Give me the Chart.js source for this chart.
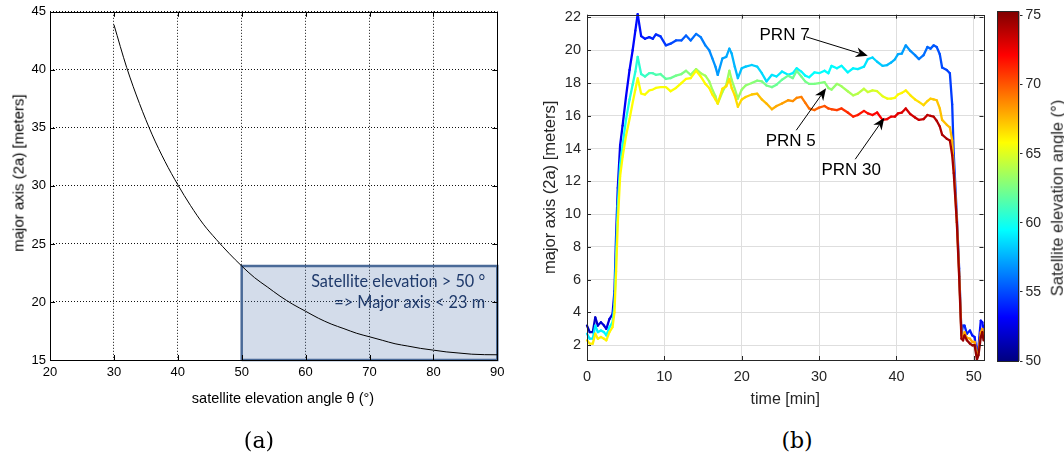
<!DOCTYPE html>
<html><head><meta charset="utf-8">
<script src="https://cdn.jsdelivr.net/npm/chart.js@4.4.1/dist/chart.umd.min.js"></script>
<style>
html,body{margin:0;padding:0;background:#fff;width:1064px;height:461px;overflow:hidden;}
body{position:relative;font-family:"Liberation Sans",Arial,Helvetica,sans-serif;}
canvas{position:absolute;top:0;}
.t{position:absolute;white-space:nowrap;transform:translate(-50%,-50%);line-height:1;}
.r{transform:translate(-50%,-50%) rotate(-90deg);}
.cap{position:absolute;white-space:nowrap;transform:translate(-50%,-50%);font-family:"DejaVu Serif",serif;font-size:22px;color:#000;line-height:1;}
</style>
</head><body>
<canvas id="ca" width="530" height="420" style="left:0"></canvas>
<canvas id="cb" width="460" height="420" style="left:530px"></canvas>
<canvas id="cc" width="74" height="420" style="left:990px"></canvas>
<div class="t r" style="left:18px;top:173px;font-size:15px;color:#000">major axis (2a) [meters]</div>
<div class="t" style="left:283px;top:398px;font-size:14.5px;color:#000">satellite elevation angle θ (°)</div>
<div class="t r" style="left:1057px;top:198px;font-size:16.5px;color:#262626">Satellite elevation angle (°)</div>
<div class="cap" style="left:259px;top:441px">(a)</div>
<div class="cap" style="left:797px;top:441px">(b)</div>
<script>
// ---------- Panel (a) data ----------
const angleDeg   = [30,32,34,36,38,40,42,44,46,48,50,52,54,56,58,60,62,64,66,68,70,72,74,76,78,80,82,84,86,88,90];
const majorAxisM = [43.9,40.2,37.1,34.4,32.1,30.1,28.3,26.7,25.4,24.2,23.1,22.1,21.3,20.5,19.8,19.2,18.6,18.1,17.7,17.3,17.0,16.7,16.4,16.2,16.0,15.85,15.7,15.6,15.5,15.46,15.45];
const boxAngle = [50, 90];
const boxMajor = [15, 23.1];
const boxText  = ["Satellite elevation > 50 °", "=> Major axis < 23 m"];
const xTicksA = [20,30,40,50,60,70,80,90];
const yTicksA = [15,20,25,30,35,40,45];

// ---------- Panel (b) data ----------
const timeMin = [0,0.35,0.75,1.07,1.4,1.8,2.2,2.5,2.9,3.3,
 3.55,3.76,3.98,4.28,4.6,5.05,5.5,5.9,6.25,6.55,
 7.0,7.5,8.05,8.5,8.9,9.5,10.2,10.8,11.5,12.2,
 12.8,13.4,14.1,14.7,15.3,15.8,16.2,16.6,16.9,17.5,
 18.0,18.4,18.7,19.1,19.5,20.0,20.5,21.3,22.0,22.6,
 23.2,23.9,24.5,25.2,26.0,26.6,27.1,27.7,28.2,28.7,
 29.4,30.0,30.7,31.2,31.6,32.3,32.9,33.7,34.4,35.0,
 35.8,36.3,36.9,37.5,38.2,38.8,39.3,39.8,40.2,40.7,
 41.2,41.8,42.4,42.9,43.5,44.0,44.4,44.8,45.2,45.6,
 45.9,46.5,46.9,47.2,47.4,47.8,48.1,48.4,48.6,48.8,
 49.1,49.5,49.8,50.1,50.4,50.6,50.9,51.1,51.25];
const prn7 = [3.2,2.8,2.8,3.7,3.2,3.4,3.2,3.0,3.6,3.9,
 5.3,8.7,11.6,14.2,15.4,17.2,18.8,20.0,21.2,22.2,
 20.86,20.7,20.8,20.7,20.97,20.85,20.3,20.4,20.6,20.6,
 20.9,20.6,21.0,20.8,20.3,20.0,19.5,19.0,18.5,19.5,
 19.6,20.1,19.8,19.0,18.3,18.9,19.0,19.1,19.0,18.6,
 18.1,18.5,18.4,18.7,18.5,18.6,18.9,18.7,18.45,18.35,
 18.65,18.6,18.75,18.6,19.05,18.9,19.05,18.65,18.9,18.85,
 19.0,19.46,19.56,19.3,19.05,19.1,19.25,19.45,19.76,19.8,
 20.3,19.96,19.7,19.46,19.7,20.2,20.1,20.3,20.2,19.76,
 18.95,18.8,18.6,16.7,13.7,9.9,6.7,2.7,3.2,3.2,
 2.7,2.9,2.6,2.5,1.5,1.9,3.5,3.4,2.9];
const prn5 = [2.7,2.4,2.4,3.2,2.8,2.9,2.8,2.6,3.1,3.4,
 4.5,7.5,10.5,13.0,14.2,15.8,17.0,17.9,18.7,19.6,
 18.55,18.4,18.6,18.6,18.5,18.55,18.25,18.3,18.45,18.55,
 18.75,18.5,18.85,18.6,18.45,18.1,17.6,17.2,16.75,17.45,
 17.9,18.75,18.2,17.65,17.05,17.6,17.85,18.0,18.15,18.1,
 17.85,17.75,17.9,18.2,18.45,18.3,18.75,18.4,18.1,17.95,
 17.95,18.0,18.05,17.7,17.6,17.95,17.8,17.5,17.25,17.35,
 17.65,17.45,17.55,17.5,17.2,17.05,17.05,17.1,17.3,17.4,
 17.55,17.25,17.0,16.85,16.65,16.9,17.05,17.0,16.95,16.45,
 15.75,15.45,15.3,14.5,12.8,9.6,6.4,2.6,2.5,2.8,
 2.45,2.4,2.2,2.2,1.3,1.6,2.8,3.0,2.5];
const prn30 = [2.3,2.1,2.1,2.7,2.4,2.5,2.4,2.3,2.8,3.1,
 4.0,6.5,9.5,12.3,13.5,14.8,15.8,16.8,17.6,18.3,
 17.35,17.3,17.55,17.6,17.7,17.75,17.75,17.5,17.7,18.0,
 18.25,18.3,18.75,18.4,17.95,17.7,17.3,17.0,16.75,17.65,
 17.8,18.25,17.7,17.25,16.55,17.0,17.15,17.3,17.35,17.0,
 16.75,16.4,16.6,16.75,16.95,16.9,17.1,17.15,16.8,16.45,
 16.35,16.5,16.6,16.45,16.4,16.35,16.45,16.2,15.95,16.05,
 16.3,16.15,16.05,16.2,15.75,15.8,15.95,15.95,16.15,16.2,
 16.45,16.1,15.9,15.75,15.8,16.05,16.0,15.95,15.7,15.35,
 14.85,14.6,14.5,13.6,12.5,9.5,6.2,2.4,2.3,2.6,
 2.3,2.1,2.0,2.0,1.12,1.4,2.5,2.8,2.3];
const elevTime  = [0,5,10,15,20,25,30,35,40,45,51.25];
const elevPrn7  = [51.5,53.0,54.5,56.3,58.0,59.0,59.6,59.2,57.5,55.3,53.3];
const elevPrn5  = [58.8,60.0,61.8,63.5,63.3,62.0,62.6,64.0,65.8,67.2,68.3];
const elevPrn30 = [66.3,65.8,65.7,65.9,66.8,68.0,69.8,71.5,72.8,74.0,75.0];
const xTicksB = [0,10,20,30,40,50];
const yTicksB = [2,4,6,8,10,12,14,16,18,20,22];
const cbRange = [50, 75.3];
const cbTicks = [50,55,60,65,70,75];

// ---------- helpers ----------
const FONT = '"Liberation Sans", Arial, Helvetica, sans-serif';
Chart.defaults.font.family = FONT;
function jet(v){
  const c = x => Math.max(0, Math.min(1, x));
  const r = c(1.5 - Math.abs(4*v - 3)), g = c(1.5 - Math.abs(4*v - 2)), b = c(1.5 - Math.abs(4*v - 1));
  return 'rgb(' + Math.round(r*255) + ',' + Math.round(g*255) + ',' + Math.round(b*255) + ')';
}
function elevColor(e){ return jet((e - cbRange[0]) / (cbRange[1] - cbRange[0])); }
function elevAt(arr, t){
  for (let i = 1; i < elevTime.length; i++) {
    if (t <= elevTime[i]) { const f = (t - elevTime[i-1]) / (elevTime[i] - elevTime[i-1]); return arr[i-1] + f * (arr[i] - arr[i-1]); }
  }
  return arr[arr.length - 1];
}
const fixedTicks = arr => scale => { scale.ticks = arr.map(v => ({value: v})); };

const framePlugin = {
  id: 'frame',
  afterDatasetsDraw(chart, args, o) {
    const {ctx, chartArea: a, scales} = chart;
    ctx.save();
    ctx.strokeStyle = o.color; ctx.lineWidth = 1;
    ctx.beginPath();
    const L = o.tick;
    scales.x.ticks.forEach(t => { const p = Math.round(scales.x.getPixelForValue(t.value)) + 0.5;
      ctx.moveTo(p, a.bottom); ctx.lineTo(p, a.bottom - L); ctx.moveTo(p, a.top); ctx.lineTo(p, a.top + L); });
    scales.y.ticks.forEach(t => { const p = Math.round(scales.y.getPixelForValue(t.value)) + 0.5;
      ctx.moveTo(a.left, p); ctx.lineTo(a.left + L, p); ctx.moveTo(a.right, p); ctx.lineTo(a.right - L, p); });
    ctx.stroke();
    ctx.strokeRect(Math.round(a.left) + 0.5, Math.round(a.top) + 0.5, Math.round(a.right - a.left), Math.round(a.bottom - a.top));
    ctx.restore();
  }
};
const boxTextPlugin = {
  id: 'boxText',
  afterDatasetsDraw(chart, args, o) {
    const {ctx} = chart, xs = chart.scales.x, ys = chart.scales.y;
    ctx.save();
    ctx.fillStyle = o.color; ctx.font = o.font; ctx.textAlign = 'right'; ctx.textBaseline = 'middle';
    o.lines.forEach((l, i) => ctx.fillText(boxText[i], xs.getPixelForValue(l.x), ys.getPixelForValue(l.y), l.w));
    ctx.restore();
  }
};
const notesPlugin = {
  id: 'notes',
  afterDatasetsDraw(chart, args, o) {
    const {ctx} = chart, xs = chart.scales.x, ys = chart.scales.y;
    ctx.save();
    ctx.strokeStyle = '#000'; ctx.fillStyle = '#000'; ctx.lineWidth = 1;
    ctx.font = o.font; ctx.textAlign = 'left'; ctx.textBaseline = 'middle';
    o.items.forEach(n => {
      ctx.fillText(n.label, xs.getPixelForValue(n.tx), ys.getPixelForValue(n.ty));
      const x0 = xs.getPixelForValue(n.ax0), y0 = ys.getPixelForValue(n.ay0);
      const x1 = xs.getPixelForValue(n.ax1), y1 = ys.getPixelForValue(n.ay1);
      const ang = Math.atan2(y1 - y0, x1 - x0), L = 12, W = 5, c = Math.cos(ang), s = Math.sin(ang);
      ctx.beginPath(); ctx.moveTo(x0, y0); ctx.lineTo(x1 - L * 0.7 * c, y1 - L * 0.7 * s); ctx.stroke();
      ctx.beginPath(); ctx.moveTo(x1, y1);
      ctx.lineTo(x1 - L * c + W * s, y1 - L * s - W * c);
      ctx.lineTo(x1 - L * 0.7 * c, y1 - L * 0.7 * s);
      ctx.lineTo(x1 - L * c - W * s, y1 - L * s + W * c);
      ctx.closePath(); ctx.fill();
    });
    ctx.restore();
  }
};

// ---------- Chart (a) ----------
new Chart(document.getElementById('ca'), {
  type: 'line',
  data: { datasets: [
    { data: angleDeg.map((x, i) => ({x, y: majorAxisM[i]})), borderColor: '#000', borderWidth: 1, pointRadius: 0, cubicInterpolationMode: 'monotone', fill: false },
    { data: [{x: boxAngle[0], y: boxMajor[0]}, {x: boxAngle[0], y: boxMajor[1]}, {x: boxAngle[1], y: boxMajor[1]}, {x: boxAngle[1], y: boxMajor[0]}, {x: boxAngle[0], y: boxMajor[0]}],
      borderColor: '#4a6a98', borderWidth: 2.5, pointRadius: 0, fill: false, clip: false },
    { data: [{x: boxAngle[0], y: boxMajor[1]}, {x: boxAngle[1], y: boxMajor[1]}], borderWidth: 0, borderColor: 'rgba(0,0,0,0)', pointRadius: 0, fill: 'start', backgroundColor: 'rgba(79,114,170,0.25)' }
  ]},
  plugins: [framePlugin, boxTextPlugin],
  options: {
    responsive: false, animation: false, devicePixelRatio: 1, events: [],
    layout: { padding: { left: 0, top: 10, right: 32.7, bottom: 0 } },
    plugins: {
      legend: { display: false }, tooltip: { enabled: false },
      frame: { color: '#000', tick: 5 },
      boxText: { color: '#1f3a6b', font: '16.5px Lato, "Open Sans", sans-serif',
        lines: [{x: 88.1, y: 21.78, w: 174}, {x: 88.1, y: 19.9, w: 151}] }
    },
    scales: {
      x: { type: 'linear', min: 20, max: 90, afterBuildTicks: fixedTicks(xTicksA), afterFit: s => { s.height = 60; },
        grid: { color: '#111', lineWidth: 1, drawTicks: false }, border: { display: false, dash: [1, 2] },
        ticks: { autoSkip: false, maxRotation: 0, padding: 5, color: '#000', font: { size: 13 } } },
      y: { type: 'linear', min: 15, max: 45, afterBuildTicks: fixedTicks(yTicksA), afterFit: s => { s.width = 50; },
        grid: { color: '#111', lineWidth: 1, drawTicks: false }, border: { display: false, dash: [1, 2] },
        ticks: { autoSkip: false, padding: 4, color: '#000', font: { size: 13 } } }
    }
  }
});

// ---------- Chart (b) ----------
function series(vals, elev) {
  return {
    data: timeMin.map((t, i) => ({x: t, y: vals[i]})),
    borderWidth: 2.3, pointRadius: 0, tension: 0, fill: false, clip: 3,
    borderCapStyle: 'round', borderJoinStyle: 'round',
    borderColor: elevColor(elev[0]),
    segment: { borderColor: c => elevColor(elevAt(elev, (timeMin[c.p0DataIndex] + timeMin[c.p1DataIndex]) / 2)) }
  };
}
new Chart(document.getElementById('cb'), {
  type: 'line',
  data: { datasets: [ series(prn30, elevPrn30), series(prn5, elevPrn5), series(prn7, elevPrn7) ] },
  plugins: [framePlugin, notesPlugin],
  options: {
    responsive: false, animation: false, devicePixelRatio: 1, events: [],
    layout: { padding: { left: 0, top: 10, right: 4, bottom: 0 } },
    plugins: {
      legend: { display: false }, tooltip: { enabled: false },
      frame: { color: '#262626', tick: 4 },
      notes: { font: '17px ' + FONT, items: [
        {label: 'PRN 7',  tx: 22.3, ty: 20.9,  ax0: 28.33, ay0: 20.82, ax1: 36.29, ay1: 19.66},
        {label: 'PRN 5',  tx: 23.1, ty: 14.46, ax0: 27.05, ay0: 15.12, ax1: 30.90, ay1: 17.68},
        {label: 'PRN 30', tx: 30.3, ty: 12.65, ax0: 34.67, ay0: 13.35, ax1: 38.43, ay1: 15.88}
      ]}
    },
    scales: {
      x: { type: 'linear', min: 0, max: 51.25, afterBuildTicks: fixedTicks(xTicksB), afterFit: s => { s.height = 60; },
        grid: { color: '#dedede', lineWidth: 1, drawTicks: false }, border: { display: false },
        ticks: { autoSkip: false, maxRotation: 0, padding: 8, color: '#262626', font: { size: 14.5 } },
        title: { display: true, text: 'time [min]', color: '#262626', font: { size: 16 }, padding: { top: 0, bottom: 10.4 } } },
      y: { type: 'linear', min: 1.1, max: 22.17, afterBuildTicks: fixedTicks(yTicksB), afterFit: s => { s.width = 57; },
        grid: { color: '#dedede', lineWidth: 1, drawTicks: false }, border: { display: false },
        ticks: { autoSkip: false, padding: 6, color: '#262626', font: { size: 14.5 } },
        title: { display: true, text: 'major axis (2a) [meters]', color: '#262626', font: { size: 16.5 }, padding: { top: 11, bottom: 0 } } }
    }
  }
});

// ---------- Colorbar ----------
new Chart(document.getElementById('cc'), {
  type: 'bar',
  data: { labels: [''], datasets: [{
    data: [cbRange], barPercentage: 1, categoryPercentage: 1, borderWidth: 0,
    backgroundColor: c => {
      const a = c.chart.chartArea; if (!a) return '#000';
      const g = c.chart.ctx.createLinearGradient(0, a.bottom, 0, a.top);
      for (let i = 0; i <= 32; i++) g.addColorStop(i / 32, jet(i / 32));
      return g;
    }
  }]},
  plugins: [{ id: 'cbframe', afterDatasetsDraw(chart) {
    const {ctx, chartArea: a} = chart; ctx.save(); ctx.strokeStyle = '#262626'; ctx.lineWidth = 1;
    ctx.strokeRect(Math.round(a.left) + 0.5, Math.round(a.top) + 0.5, Math.round(a.right - a.left) - 1, Math.round(a.bottom - a.top)); ctx.restore(); } }],
  options: {
    responsive: false, animation: false, devicePixelRatio: 1, events: [],
    layout: { padding: { left: 7.3, top: 9.3, right: 0, bottom: 59 } },
    plugins: { legend: { display: false }, tooltip: { enabled: false } },
    scales: {
      x: { display: false },
      y: { position: 'right', min: cbRange[0], max: cbRange[1], afterBuildTicks: fixedTicks(cbTicks), afterFit: s => { s.width = 44.5; },
        grid: { drawOnChartArea: false, drawTicks: true, tickLength: 3, tickColor: '#262626' }, border: { display: false },
        ticks: { padding: 3, color: '#262626', font: { size: 14 } } }
    }
  }
});
</script>
</body></html>
